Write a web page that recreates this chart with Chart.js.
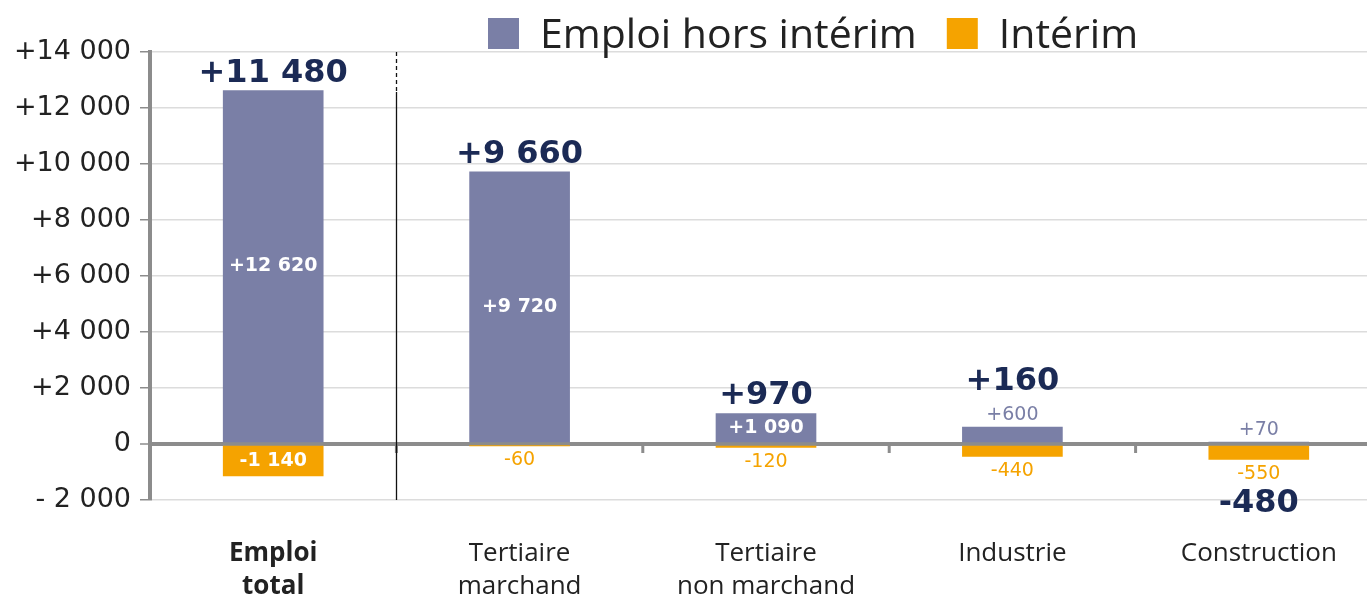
<!DOCTYPE html>
<html>
<head>
<meta charset="utf-8">
<script src="https://cdn.jsdelivr.net/npm/chart.js@4"></script>
<style>
  html, body { margin: 0; padding: 0; background: #fff; overflow: hidden; }
  #wrap { width: 1367px; height: 598px; overflow: hidden; }
</style>
</head>
<body>
<div id="wrap"><canvas id="chart" width="1384" height="598"></canvas></div>
<script>
const categories = [['Emploi', 'total'], ['Tertiaire', 'marchand'], ['Tertiaire', 'non marchand'], 'Industrie', 'Construction'];
const horsInterim = [12620, 9720, 1090, 600, 70];
const interim = [-1140, -60, -120, -440, -550];
const totals = [11480, 9660, 970, 160, -480];
const yTicks = [-2000, 0, 2000, 4000, 6000, 8000, 10000, 12000, 14000];

const BLUE = '#7a7fa6';
const ORANGE = '#f5a300';
const NAVY = '#1b2a55';

const fmt = v => String(Math.abs(v)).replace(/\B(?=(\d{3})+(?!\d))/g, ' ');
const signed = v => (v > 0 ? '+' : v < 0 ? '-' : '') + fmt(v);

// legend drawn at the top, like the original
const topLegend = {
    id: 'topLegend',
    afterDraw: (chart) => {
        const ctx = chart.ctx;
        ctx.save();
        ctx.font = '41px "Open Sans"';
        ctx.textBaseline = 'alphabetic';
        let x = 488;
        chart.data.datasets.forEach(ds => {
            ctx.fillStyle = ds.backgroundColor;
            ctx.fillRect(x, 18, 31, 31);
            ctx.fillStyle = '#222';
            ctx.fillText(ds.label, x + 52, 48);
            x += 52 + ctx.measureText(ds.label).width + 30;
        });
        ctx.restore();
    }
};

// value labels on the bars and totals
const barLabels = {
    id: 'barLabels',
    afterDatasetsDraw: (chart) => {
        const ctx = chart.ctx;
        const m0 = chart.getDatasetMeta(0);
        const m1 = chart.getDatasetMeta(1);
        ctx.save();
        ctx.textAlign = 'center';
        categories.forEach((c, i) => {
            const b0 = m0.data[i];
            const b1 = m1.data[i];
            const x = b0.x;
            let topY = Math.min(b0.y, b0.base);
            let botY = Math.max(b1.y, b1.base);

            // emploi hors interim
            const v0 = horsInterim[i];
            if (Math.abs(v0) >= 1000) {
                ctx.font = 'bold 19px "DejaVu Sans"';
                ctx.fillStyle = '#fff';
                ctx.textBaseline = 'middle';
                ctx.fillText(signed(v0), x, (b0.y + b0.base) / 2);
            } else {
                ctx.font = '19px "DejaVu Sans"';
                ctx.fillStyle = BLUE;
                ctx.textBaseline = 'alphabetic';
                ctx.fillText(signed(v0), x, b0.y - 7);
                topY = b0.y - 28;
            }

            // interim
            const v1 = interim[i];
            if (Math.abs(v1) >= 1000) {
                ctx.font = 'bold 19px "DejaVu Sans"';
                ctx.fillStyle = '#fff';
                ctx.textBaseline = 'middle';
                ctx.fillText(signed(v1), x, (b1.y + b1.base) / 2);
            } else {
                ctx.font = '19px "DejaVu Sans"';
                ctx.fillStyle = ORANGE;
                ctx.textBaseline = 'top';
                ctx.fillText(signed(v1), x, b1.y + 5);
                botY = b1.y + 25;
            }

            // total
            ctx.font = 'bold 32px "DejaVu Sans"';
            ctx.fillStyle = NAVY;
            if (totals[i] >= 0) {
                ctx.textBaseline = 'alphabetic';
                ctx.fillText(signed(totals[i]), x, topY - 9);
            } else {
                ctx.textBaseline = 'top';
                ctx.fillText(signed(totals[i]), x, botY + 3);
            }
        });
        ctx.restore();
    }
};

// small ticks on the zero line and the separator after "Emploi total"
const axisMarks = {
    id: 'axisMarks',
    afterDraw: (chart) => {
        const ctx = chart.ctx;
        const xs = chart.scales.x;
        const ys = chart.scales.y;
        const y0 = ys.getPixelForValue(0);
        const area = chart.chartArea;
        ctx.save();
        ctx.strokeStyle = '#8c8c8c';
        ctx.lineWidth = 3;
        for (let i = 0; i < categories.length - 1; i++) {
            const bx = (xs.getPixelForValue(i) + xs.getPixelForValue(i + 1)) / 2;
            ctx.beginPath();
            ctx.moveTo(bx, y0);
            ctx.lineTo(bx, y0 + 9);
            ctx.stroke();
        }
        const sx = Math.round((xs.getPixelForValue(0) + xs.getPixelForValue(1)) / 2) + 0.5;
        ctx.strokeStyle = '#111';
        ctx.lineWidth = 1.3;
        ctx.setLineDash([4, 3]);
        ctx.beginPath();
        ctx.moveTo(sx, area.top);
        ctx.lineTo(sx, area.top + 40);
        ctx.stroke();
        ctx.setLineDash([]);
        ctx.beginPath();
        ctx.moveTo(sx, area.top + 40);
        ctx.lineTo(sx, area.bottom);
        ctx.stroke();
        ctx.restore();
    }
};

new Chart(document.getElementById('chart').getContext('2d'), {
    type: 'bar',
    data: {
        labels: categories,
        datasets: [
            { label: 'Emploi hors intérim', data: horsInterim, backgroundColor: BLUE, borderWidth: 0 },
            { label: 'Intérim', data: interim, backgroundColor: ORANGE, borderWidth: 0 }
        ]
    },
    options: {
        responsive: false,
        animation: false,
        layout: { padding: { top: 52, right: 2, left: 0, bottom: 0 } },
        datasets: { bar: { barThickness: 100 } },
        scales: {
            x: {
                stacked: true,
                grid: { display: false, drawTicks: false },
                border: { display: false },
                ticks: {
                    color: '#222',
                    padding: 37,
                    maxRotation: 0,
                    autoSkip: false,
                    font: (c) => ({ family: '"Open Sans"', size: 26, lineHeight: 1.28, weight: c.index === 0 ? 'bold' : 'normal' })
                },
                afterFit: (scale) => { scale.height = 98; }
            },
            y: {
                stacked: true,
                min: -2000,
                max: 14000,
                afterBuildTicks: (scale) => { scale.ticks = yTicks.map(v => ({ value: v })); },
                grid: {
                    color: (c) => c.tick && c.tick.value === 0 ? '#8c8c8c' : '#dcdcdc',
                    lineWidth: (c) => c.tick && c.tick.value === 0 ? 4 : 1.5,
                    tickColor: '#8c8c8c',
                    tickLength: 10,
                    tickWidth: 1.5
                },
                border: { color: '#8c8c8c', width: 4 },
                ticks: {
                    color: '#222',
                    padding: 9,
                    font: { family: '"DejaVu Sans"', size: 27 },
                    callback: v => v > 0 ? '+' + fmt(v) : v < 0 ? '- ' + fmt(v) : '0'
                },
                afterFit: (scale) => { scale.width = 150; }
            }
        },
        plugins: {
            legend: { display: false },
            tooltip: { enabled: false }
        }
    },
    plugins: [topLegend, barLabels, axisMarks]
});
</script>
</body>
</html>
